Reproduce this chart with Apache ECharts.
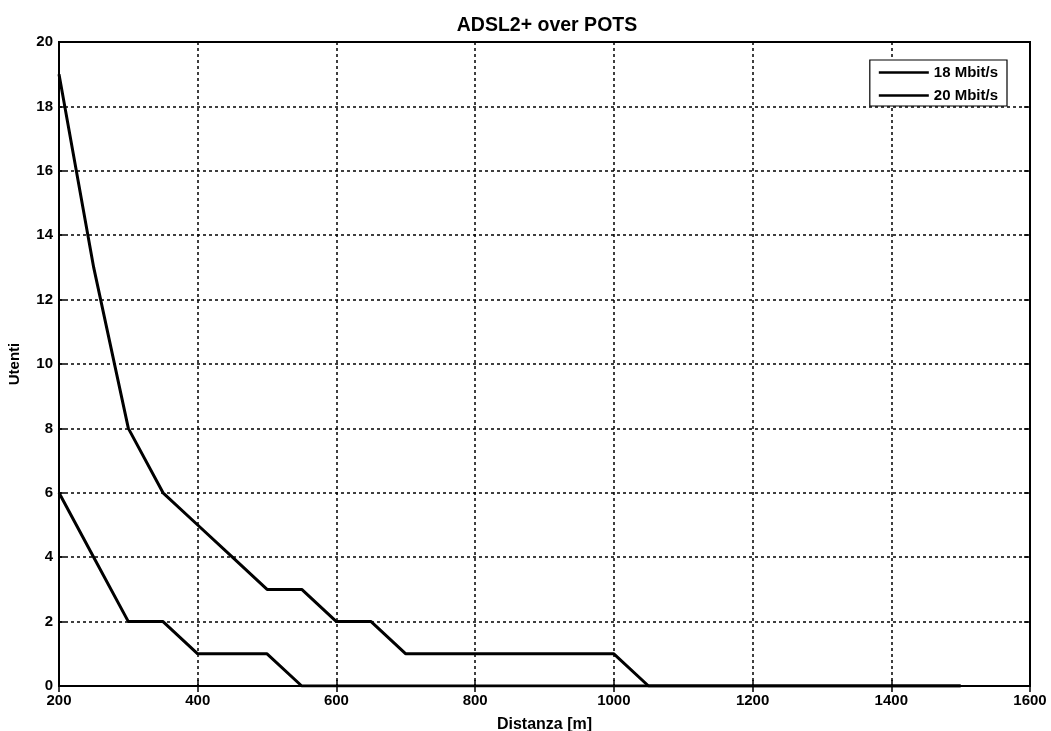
<!DOCTYPE html>
<html><head><meta charset="utf-8">
<script src="https://cdn.jsdelivr.net/npm/echarts@6/dist/echarts.min.js"></script>
<style>html,body{margin:0;padding:0;background:#fff}#c{width:1051px;height:731px}</style>
</head><body><div id="c"></div>
<script>
const distances = [200,250,300,350,400,450,500,550,600,650,700,750,800,850,900,950,1000,1050,1100,1150,1200,1250,1300,1350,1400,1450,1500];
const users18 = [19,13,8,6,5,4,3,3,2,2,1,1,1,1,1,1,1,0,0,0,0,0,0,0,0,0,0];
const users20 = [6,4,2,2,1,1,1,0,0,0,0,0,0,0,0,0,0,0,0,0,0,0,0,0,0,0,0];
const seriesNames = ['18 Mbit/s','20 Mbit/s'];
const xTicks = [200,400,600,800,1000,1200,1400,1600];
const yTicks = [0,2,4,6,8,10,12,14,16,18,20];

const font = '"Liberation Sans", Arial, sans-serif';
const chart = echarts.init(document.getElementById('c'));
const pair = (ys) => distances.map((d,i)=>[d, ys[i]]);
const gridLine = {show:true, lineStyle:{color:'#000', width:1.5, type:[3,3]}};
const tick = {show:true, inside:true, length:6, lineStyle:{color:'#000', width:1.5}};
const axLine = {show:true, lineStyle:{color:'#000', width:2}};
const lbl = {fontFamily:font, fontWeight:'bold', fontSize:15, color:'#000'};
chart.setOption({
  animation:false,
  backgroundColor:'#fff',
  title:{text:'ADSL2+ over POTS', left:542, textAlign:'center', top:11,
    textStyle:{fontFamily:font, fontWeight:'bold', fontSize:19.5, color:'#000'}},
  legend:{
    data:seriesNames.map(n=>({name:n, icon:'rect'})), orient:'vertical', right:44, top:60,
    backgroundColor:'#fff', borderColor:'#000', borderWidth:1.2,
    padding:[5,9,3,9], itemGap:8, itemWidth:50, itemHeight:2.5,
    textStyle:{fontFamily:font, fontWeight:'bold', fontSize:15, color:'#000'}
  },
  grid:{left:59, right:21, top:42, bottom:45, show:true, borderColor:'#000', borderWidth:2,
    containLabel:false, outerBoundsMode:'none'},
  xAxis:[{
    type:'value', min:xTicks[0], max:xTicks[xTicks.length-1], interval:200,
    name:'Distanza [m]', nameLocation:'middle', nameGap:31,
    nameTextStyle:{fontFamily:font, fontWeight:'bold', fontSize:16, color:'#000'},
    axisLine:axLine, axisTick:tick,
    axisLabel:Object.assign({margin:7, formatter:v=>String(v)}, lbl),
    splitLine:gridLine
  },{
    type:'value', position:'top', min:xTicks[0], max:xTicks[xTicks.length-1], interval:200,
    axisLine:axLine, axisTick:tick, axisLabel:{show:false}, splitLine:{show:false}
  }],
  yAxis:[{
    type:'value', min:yTicks[0], max:yTicks[yTicks.length-1], interval:2,
    name:'Utenti', nameLocation:'middle', nameGap:37, nameRotate:90,
    nameTextStyle:{fontFamily:font, fontWeight:'bold', fontSize:15, color:'#000'},
    axisLine:axLine, axisTick:tick,
    axisLabel:Object.assign({margin:6}, lbl),
    splitLine:gridLine
  },{
    type:'value', position:'right', min:yTicks[0], max:yTicks[yTicks.length-1], interval:2,
    axisLine:axLine, axisTick:tick, axisLabel:{show:false}, splitLine:{show:false}
  }],
  series:[
    {name:seriesNames[0], type:'line', data:pair(users18), symbol:'none',
     lineStyle:{color:'#000', width:3}, itemStyle:{color:'#000'}},
    {name:seriesNames[1], type:'line', data:pair(users20), symbol:'none',
     lineStyle:{color:'#000', width:3}, itemStyle:{color:'#000'}}
  ]
});
</script></body></html>
